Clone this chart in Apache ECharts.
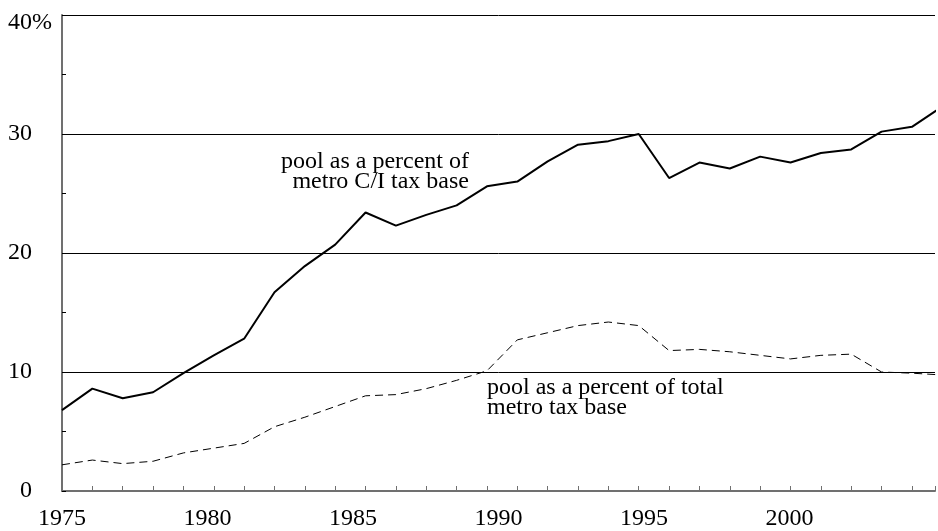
<!DOCTYPE html>
<html>
<head>
<meta charset="utf-8">
<script src="https://cdn.jsdelivr.net/npm/echarts@6/dist/echarts.min.js"></script>
<style>
  html, body { margin: 0; padding: 0; background: #fff; }
  #chart { width: 938px; height: 531px; }
</style>
</head>
<body>
<div id="chart"></div>
<script>
// years, one point per year
const years = [1975, 1976, 1977, 1978, 1979, 1980, 1981, 1982, 1983, 1984,
  1985, 1986, 1987, 1988, 1989, 1990, 1991, 1992, 1993, 1994,
  1995, 1996, 1997, 1998, 1999, 2000, 2001, 2002, 2003, 2004]
// pool as a percent of metro C/I tax base
const ciBase = [6.8, 8.6, 7.8, 8.3, 9.9, 11.4, 12.8, 16.7, 18.9, 20.7,
  23.4, 22.3, 23.2, 24.0, 25.6, 26.0, 27.7, 29.1, 29.4, 30.0,
  26.3, 27.6, 27.1, 28.1, 27.6, 28.4, 28.7, 30.2, 30.6, 32.3]
// pool as a percent of total metro tax base
const totalBase = [2.2, 2.6, 2.3, 2.5, 3.2, 3.6, 4.0, 5.4, 6.2, 7.1,
  8.0, 8.1, 8.6, 9.3, 10.1, 12.7, 13.3, 13.9, 14.2, 13.9,
  11.8, 11.9, 11.7, 11.4, 11.1, 11.4, 11.5, 10.0, 9.9, 9.75]
const yTicks = [0, 10, 20, 30, 40]
const labelYears = [1975, 1980, 1985, 1990, 1995, 2000]

const font = "'Liberation Serif', 'DejaVu Serif', serif"
const axisGray = '#707070'

let myChart = echarts.init(document.getElementById('chart'))
let option = {
  backgroundColor: '#fff',
  animation: false,
  grid: { left: 62, right: 0, top: 15, bottom: 40 },
  xAxis: [
    {
      // data axis: one tick per year
      type: 'value',
      min: 1975,
      max: 2003.76,
      interval: 1,
      position: 'bottom',
      axisLine: { show: true, lineStyle: { color: axisGray, width: 2 } },
      axisTick: { show: true, inside: true, length: 5, lineStyle: { color: axisGray, width: 1 } },
      axisLabel: { show: false },
      splitLine: { show: false }
    },
    {
      // year labels
      type: 'value',
      min: 1975,
      max: 2005,
      interval: 5,
      position: 'bottom',
      axisLine: { show: false },
      axisTick: { show: false },
      splitLine: { show: false },
      axisLabel: {
        margin: 16,
        color: '#000',
        fontFamily: font,
        fontSize: 24,
        formatter: (v) => labelYears.indexOf(v) >= 0 ? String(v) : ''
      }
    }
  ],
  yAxis: [
    {
      type: 'value',
      min: 0,
      max: 40,
      interval: 10,
      axisLine: { show: true, lineStyle: { color: axisGray, width: 2 } },
      axisTick: { show: true, inside: true, length: 4, lineStyle: { color: '#000' } },
      minorTick: { show: true, splitNumber: 2, length: 4, lineStyle: { color: '#000' } },
      splitLine: { show: true, lineStyle: { color: '#000', width: 1 } },
      axisLabel: {
        margin: 30,
        color: '#000',
        fontFamily: font,
        fontSize: 24,
        formatter: (v) => v === 40 ? '{top|40}' : (yTicks.indexOf(v) >= 0 ? String(v) : ''),
        rich: { top: { fontFamily: font, fontSize: 24, padding: [16, 0, 0, 0] } }
      }
    },
    {
      // the % sign after the top label
      type: 'value',
      min: 0,
      max: 40,
      interval: 10,
      position: 'left',
      axisLine: { show: false },
      axisTick: { show: false },
      splitLine: { show: false },
      axisLabel: {
        margin: 30,
        align: 'left',
        color: '#000',
        fontFamily: font,
        fontSize: 24,
        formatter: (v) => v === 40 ? '{top|%}' : '',
        rich: { top: { fontFamily: font, fontSize: 24, padding: [16, 0, 0, 0] } }
      }
    }
  ],
  graphic: [
    {
      type: 'text',
      x: 469,
      y: 152,
      style: {
        text: 'pool as a percent of\nmetro C/I tax base',
        font: '24px ' + font,
        fill: '#000',
        align: 'right',
        verticalAlign: 'top',
        lineHeight: 20
      }
    },
    {
      type: 'text',
      x: 487,
      y: 378,
      style: {
        text: 'pool as a percent of total\nmetro tax base',
        font: '24px ' + font,
        fill: '#000',
        align: 'left',
        verticalAlign: 'top',
        lineHeight: 20
      }
    }
  ],
  series: [
    {
      name: 'C/I tax base',
      type: 'line',
      xAxisIndex: 0,
      yAxisIndex: 0,
      symbol: 'none',
      lineStyle: { color: '#000', width: 2 },
      data: years.map((y, i) => [y, ciBase[i]])
    },
    {
      name: 'total tax base',
      type: 'line',
      xAxisIndex: 0,
      yAxisIndex: 0,
      symbol: 'none',
      lineStyle: { color: '#000', width: 1, type: [8, 5] },
      data: years.map((y, i) => [y, totalBase[i]])
    }
  ]
}
myChart.setOption(option)
</script>
</body>
</html>
